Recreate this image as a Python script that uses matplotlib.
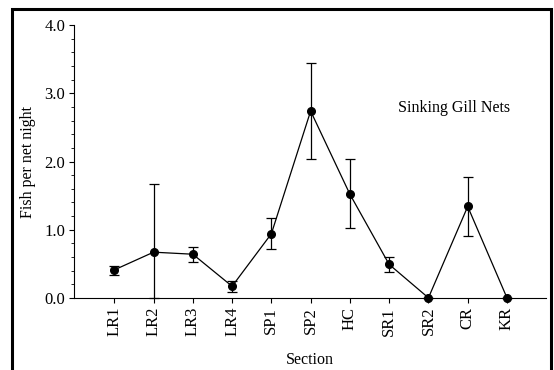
import matplotlib
matplotlib.use("Agg")
import matplotlib.pyplot as plt
from matplotlib.patches import Rectangle
from matplotlib.ticker import MultipleLocator

plt.rcParams['font.family'] = ['Liberation Serif', 'DejaVu Serif']

sections = ["LR1", "LR2", "LR3", "LR4", "SP1", "SP2", "HC", "SR1", "SR2", "CR", "KR"]
fish = [0.41, 0.67, 0.64, 0.17, 0.94, 2.74, 1.52, 0.49, 0.0, 1.34, 0.0]
err_low = [0.08, 0.67, 0.11, 0.09, 0.22, 0.71, 0.50, 0.11, 0.0, 0.44, 0.0]
err_high = [0.06, 1.00, 0.11, 0.08, 0.23, 0.71, 0.51, 0.11, 0.0, 0.44, 0.0]

fig = plt.figure(figsize=(5.54, 3.70), dpi=100)
ax = fig.add_axes([0.134, 0.195, 0.852, 0.737])

x = list(range(len(sections)))
ax.errorbar(x, fish, yerr=[err_low, err_high], fmt='o-', color='black',
             ms=5.5, lw=0.9, elinewidth=0.9, capsize=3.5, capthick=0.9,
             clip_on=False, zorder=3)

ax.set_xlim(-1.02, 11.0)
ax.set_ylim(0, 4.0)
ax.set_xticks(x)
ax.set_xticklabels(sections, rotation=90, fontsize=12)
ax.yaxis.set_minor_locator(MultipleLocator(0.2))
ax.set_yticks([0, 1, 2, 3, 4])
ax.set_yticklabels(["0.0", "1.0", "2.0", "3.0", "4.0"], fontsize=12)
ax.tick_params(axis='both', which='major', length=3.5, width=0.8, direction='out', pad=3)
ax.tick_params(axis='y', which='minor', length=2.5, width=0.6, direction='out')
ax.spines['top'].set_visible(False)
ax.spines['right'].set_visible(False)
ax.spines['left'].set_linewidth(0.8)
ax.spines['bottom'].set_linewidth(0.8)

ax.set_ylabel("Fish per net night", fontsize=11.5, labelpad=6)
ax.set_xlabel("Section", fontsize=11.5, labelpad=11)
ax.text(8.65, 2.78, "Sinking Gill Nets", fontsize=11.5, ha='center', va='center')

fig.patches.append(Rectangle((0.0208, -0.05), 0.9729, 1.027, transform=fig.transFigure,
                             fill=False, edgecolor='black', linewidth=2.2))

fig.savefig("out.png", dpi=100)
